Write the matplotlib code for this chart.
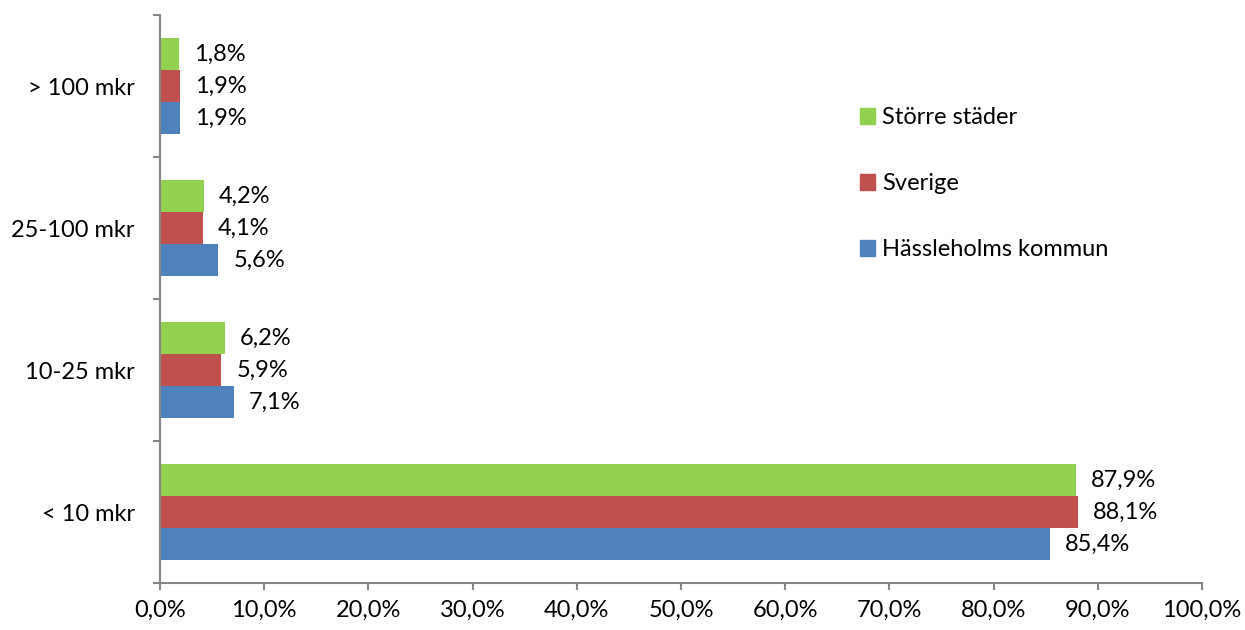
import numpy as np
import matplotlib.pyplot as plt
from matplotlib.patches import Patch

categories = ['< 10 mkr', '10-25 mkr', '25-100 mkr', '> 100 mkr']
series = ['Hässleholms kommun', 'Sverige', 'Större städer']
hassleholm = [85.4, 7.1, 5.6, 1.9]
sverige = [88.1, 5.9, 4.1, 1.9]
storre = [87.9, 6.2, 4.2, 1.8]
colors = ['#4F81BD', '#C0504D', '#92D050']

plt.rcParams['font.family'] = ['Lato', 'DejaVu Sans']
fs = 17

fig = plt.figure(figsize=(12.45, 6.3), dpi=100)
ax = fig.add_axes([0.1285, 0.0746, 0.837, 0.9015])

y = np.arange(len(categories))
h = 0.225
grey = '#868686'

for i, (vals, col) in enumerate(zip([hassleholm, sverige, storre], colors)):
    pos = y + (i - 1) * h
    ax.barh(pos, vals, height=h, color=col, edgecolor='none')
    for p, v in zip(pos, vals):
        ax.annotate(f'{v:.1f}%'.replace('.', ','), (v, p), xytext=(11, 0),
                    textcoords='offset points', va='center', ha='left',
                    fontsize=fs)

ax.set_xlim(0, 100)
ax.set_ylim(-0.5, 3.5)
ax.set_xticks(np.arange(0, 101, 10))
ax.set_xticklabels([f'{t:.1f}%'.replace('.', ',') for t in np.arange(0, 101, 10)],
                   fontsize=fs)
ax.set_yticks(np.arange(-0.5, 3.6, 1))
ax.set_yticklabels([])
ax.set_yticks(y, minor=True)
ax.set_yticklabels(categories, minor=True, fontsize=fs)
ax.tick_params(axis='y', which='minor', length=0, pad=18)
ax.tick_params(axis='both', which='major', length=5, width=1.5, color=grey)
ax.tick_params(axis='x', pad=7)

for s in ['top', 'right']:
    ax.spines[s].set_visible(False)
for s in ['left', 'bottom']:
    ax.spines[s].set_color(grey)
    ax.spines[s].set_linewidth(1.5)

handles = [Patch(color=c) for c in colors][::-1]
ax.legend(handles, series[::-1], loc='upper left', bbox_to_anchor=(0.651, 0.875),
          frameon=False, fontsize=fs, handlelength=0.65, handleheight=0.65,
          handletextpad=0.3, labelspacing=1.9)

fig.savefig('out.png', dpi=100)
